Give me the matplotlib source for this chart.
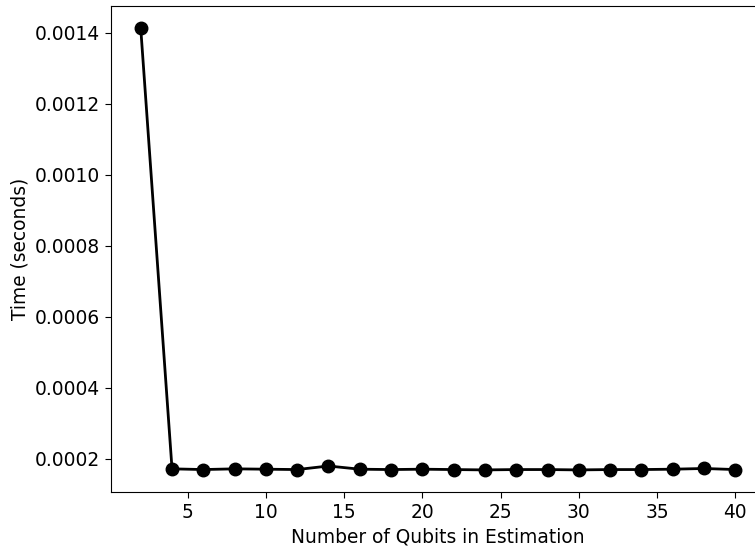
import numpy as np
import matplotlib
matplotlib.use("Agg")
import matplotlib.pyplot as plt

# qubits used in the estimation and measured run time
n_qubits = [2, 4, 6, 8, 10, 12, 14, 16, 18, 20, 22, 24, 26, 28, 30, 32, 34, 36, 38, 40]
times = [0.001413, 0.000172, 0.000170, 0.000172, 0.000171, 0.000170, 0.000180,
         0.000171, 0.000170, 0.000171, 0.000170, 0.000169, 0.000170, 0.000170,
         0.000169, 0.000170, 0.000170, 0.000171, 0.000173, 0.000170]

plt.rcParams['font.size'] = 13.4
plt.rcParams['xtick.major.size'] = 4.5
plt.rcParams['ytick.major.size'] = 4.5

fig = plt.figure(figsize=(7.55, 5.5), dpi=100)
ax = fig.add_axes([111 / 755, 58 / 550, 654 / 755, 486 / 550])

ax.plot(n_qubits, times, color='black', marker='o', linewidth=2.0, markersize=9)

ax.set_xlabel('Number of Qubits in Estimation')
ax.set_ylabel('Time (seconds)')

fig.savefig('out.png', dpi=100)
